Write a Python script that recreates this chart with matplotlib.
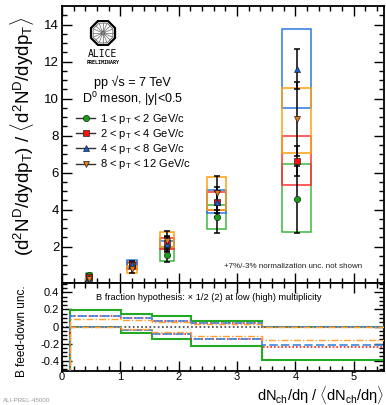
import matplotlib
matplotlib.use("Agg")
import matplotlib.pyplot as plt
from matplotlib.patches import Rectangle, RegularPolygon, Circle
from matplotlib.lines import Line2D
import numpy as np

plt.rcParams['font.family'] = ['Liberation Sans', 'DejaVu Sans']
plt.rcParams['mathtext.fontset'] = 'custom'
plt.rcParams['mathtext.rm'] = 'Liberation Sans'
plt.rcParams['mathtext.it'] = 'Liberation Sans:italic'
plt.rcParams['mathtext.bf'] = 'Liberation Sans:bold'

# ---------------- data ----------------
mult = [0.46, 1.2, 1.8, 2.65, 4.02]
mult_syst = [0.05, 0.08, 0.115, 0.165, 0.245]

pt_labels = ["1 < p$_{\\mathrm{T}}$ < 2 GeV/c",
             "2 < p$_{\\mathrm{T}}$ < 4 GeV/c",
             "4 < p$_{\\mathrm{T}}$ < 8 GeV/c",
             "8 < p$_{\\mathrm{T}}$ < 12 GeV/c"]

yield_pt1 = [0.47, 0.95, 1.57, 3.60, 4.55]
stat_pt1 = [0.05, 0.10, 0.42, 0.85, 1.80]
syst_lo_pt1 = [0.38, 0.80, 1.24, 2.96, 2.78]
syst_hi_pt1 = [0.56, 1.10, 1.88, 4.25, 6.45]

yield_pt2 = [0.36, 0.98, 2.20, 4.40, 6.63]
stat_pt2 = [0.05, 0.12, 0.35, 0.60, 0.80]
syst_lo_pt2 = [0.30, 0.80, 1.88, 3.95, 5.34]
syst_hi_pt2 = [0.44, 1.17, 2.45, 4.95, 7.98]

yield_pt3 = [0.30, 1.08, 2.12, 4.40, 11.60]
stat_pt3 = [0.05, 0.12, 0.40, 0.80, 1.10]
syst_lo_pt3 = [0.25, 0.88, 1.95, 3.84, 9.48]
syst_hi_pt3 = [0.38, 1.26, 2.32, 5.03, 13.75]

yield_pt4 = [0.25, 0.78, 2.30, 4.89, 8.90]
stat_pt4 = [0.06, 0.20, 0.55, 0.90, 2.00]
syst_lo_pt4 = [0.20, 0.55, 2.00, 3.98, 7.05]
syst_hi_pt4 = [0.30, 0.95, 2.76, 5.75, 10.56]

# B feed-down uncertainty bands
fd_edges = [0.137, 1.01, 1.55, 2.21, 3.42, 5.6]
fd_up_pt1 = [0.19, 0.15, 0.12, 0.07, 0.0]
fd_dn_pt1 = [0.0, -0.075, -0.145, -0.23, -0.39]
fd_up_pt2 = [0.12, 0.10, 0.07, 0.04, 0.0]
fd_dn_pt2 = [0.0, -0.045, -0.09, -0.15, -0.235]
fd_up_pt3 = [0.12, 0.10, 0.07, 0.04, 0.0]
fd_dn_pt3 = [0.0, -0.043, -0.088, -0.145, -0.22]
fd_up_pt4 = [0.086, 0.075, 0.055, 0.025, 0.0]
fd_dn_pt4 = [0.0, -0.03, -0.062, -0.11, -0.16]

# ---------------- styles ----------------
marker_col = ['#13a013', '#ff1010', '#1060d8', '#e87a10']
box_col = ['#3cb83c', '#ff3030', '#2a7ae0', '#ffa010']
markers = ['o', 's', '^', 'v']
fd_col = ['#22aa22', '#ff2020', '#3c88e0', '#ffa030']
fd_ls = ['-', (0, (1, 1.2)), (0, (5, 2)), (0, (5, 1.5, 1, 1.5))]
fd_lw = [1.5, 1.2, 1.2, 1.0]

series = [
    (yield_pt1, stat_pt1, syst_lo_pt1, syst_hi_pt1),
    (yield_pt2, stat_pt2, syst_lo_pt2, syst_hi_pt2),
    (yield_pt3, stat_pt3, syst_lo_pt3, syst_hi_pt3),
    (yield_pt4, stat_pt4, syst_lo_pt4, syst_hi_pt4),
]
fd_series = [(fd_up_pt1, fd_dn_pt1), (fd_up_pt2, fd_dn_pt2),
             (fd_up_pt3, fd_dn_pt3), (fd_up_pt4, fd_dn_pt4)]

W, H = 386, 405
fig = plt.figure(figsize=(W / 100, H / 100), dpi=100)
ax1 = fig.add_axes([62 / W, 1 - 283 / H, (384 - 62) / W, (283 - 6) / H])
ax2 = fig.add_axes([62 / W, 1 - 371 / H, (384 - 62) / W, (371 - 283) / H])

XMAX = 5.52
for ax in (ax1, ax2):
    ax.set_xlim(0, XMAX)
    for s in ax.spines.values():
        s.set_linewidth(1.3)
    ax.tick_params(which='both', direction='in', top=True, right=True, width=1.0)
    ax.tick_params(which='major', length=7)
    ax.tick_params(which='minor', length=3.5)
    ax.set_xticks([0, 1, 2, 3, 4, 5])
    ax.set_xticks(np.arange(0, XMAX, 0.2), minor=True)

# ---------------- top panel ----------------
ax1.set_ylim(0.03, 15.0)
ax1.set_yticks([2, 4, 6, 8, 10, 12, 14])
ax1.set_yticks(np.arange(0.5, 15, 0.5), minor=True)
ax1.tick_params(axis='x', labelbottom=False)
ax1.tick_params(axis='y', labelsize=9.5, pad=2)

for i, (yv, st, lo, hi) in enumerate(series):
    for x, hw, l, h in zip(mult, mult_syst, lo, hi):
        ax1.add_patch(Rectangle((x - hw, l), 2 * hw, h - l, fill=False,
                                edgecolor=box_col[i], lw=1.1, zorder=2 + i * 0.1))
for i, (yv, st, lo, hi) in enumerate(series):
    ax1.errorbar(mult, yv, yerr=st, fmt='none', ecolor='black', elinewidth=1.1,
                 capsize=2.2, capthick=1.1, zorder=4)
for i, (yv, st, lo, hi) in enumerate(series):
    ax1.plot(mult, yv, ls='none', marker=markers[i], ms=4.5, mfc=marker_col[i],
             mec='#202020', mew=0.5, zorder=5)

ax1.set_ylabel("(d$^{2}$N$^{\\mathrm{D}}$/dydp$_{\\mathrm{T}}$) / "
               "$\\langle$d$^{2}$N$^{\\mathrm{D}}$/dydp$_{\\mathrm{T}}\\rangle$",
               fontsize=13.5, labelpad=3)
ax1.yaxis.set_label_coords(-0.08, 0.53)


def fig_text(xpx, ypx, s, **kw):
    fig.text(xpx / W, 1 - ypx / H, s, **kw)


fig_text(94, 82, "pp \u221as = 7 TeV", fontsize=9, va='center', ha='left')
fig_text(82, 99, "D$^{0}$ meson, |y|<0.5", fontsize=9, va='center', ha='left')

handles = [Line2D([], [], color='#303030', lw=1.0, marker=markers[i], ms=4.5,
                  mfc=marker_col[i], mec='#202020', mew=0.5) for i in range(4)]
ax1.legend(handles, pt_labels, loc='upper left', bbox_to_anchor=(0.045, 0.617),
           frameon=False, fontsize=8, handlelength=1.7, handletextpad=0.4,
           labelspacing=0.1, borderaxespad=0, borderpad=0)

ax1.text((362 - 62) / 322, 0.058, "+7%/-3% normalization unc. not shown",
         transform=ax1.transAxes, fontsize=5.8, ha='right', va='center', color='#202020')

# ALICE logo
lax = fig.add_axes([88 / W, 1 - 46 / H, 30 / W, 26 / H])
lax.set_xlim(-1.15, 1.15)
lax.set_ylim(-1.0, 1.0)
lax.set_aspect('equal')
lax.axis('off')
lax.add_patch(RegularPolygon((0, 0), 8, radius=1.0, orientation=np.pi / 8,
                             fill=False, lw=1.6, edgecolor='black'))
lax.add_patch(RegularPolygon((0, 0), 8, radius=0.82, orientation=np.pi / 8,
                             fill=False, lw=0.5, edgecolor='#555555'))
for a in np.linspace(0, 2 * np.pi, 16, endpoint=False):
    lax.plot([0.12 * np.cos(a), 0.78 * np.cos(a)], [0.12 * np.sin(a), 0.78 * np.sin(a)],
             color='#666666', lw=0.5)
lax.add_patch(Circle((0, 0), 0.14, color='#888888'))
fig_text(103, 54, "ALICE", fontsize=7, ha='center', va='center', family='DejaVu Sans Mono')
fig_text(103, 62.5, "PRELIMINARY", fontsize=3.6, ha='center', va='center',
         family='DejaVu Sans Mono', weight='bold')

# ---------------- bottom panel ----------------
ax2.set_ylim(-0.52, 0.51)
ax2.set_yticks([-0.4, -0.2, 0, 0.2, 0.4])
ax2.set_yticklabels(["-0.4", "-0.2", "0", "0.2", "0.4"])
ax2.set_yticks(np.arange(-0.5, 0.51, 0.05), minor=True)
ax2.tick_params(axis='both', labelsize=8, pad=2)
ax2.tick_params(axis='x', pad=1)

ax2.axhline(0, color='#404040', ls=(0, (1, 1.5)), lw=1.2, zorder=1)
for i, (up, dn) in enumerate(fd_series):
    for vals in (up, dn):
        ax2.stairs(vals, fd_edges, baseline=-0.6, fill=False, color=fd_col[i],
                   ls=fd_ls[i], lw=fd_lw[i], zorder=2 + i)

ax2.text(0.105, 0.83, "B fraction hypothesis: \u00d7 1/2 (2) at low (high) multiplicity",
         transform=ax2.transAxes, fontsize=6.7, ha='left', va='center')
ax2.set_ylabel("B feed-down unc.", fontsize=8.5, labelpad=2)
ax2.yaxis.set_label_coords(-0.105, 0.45)

fig_text(384, 395, "dN$_{\\mathrm{ch}}$/d\u03b7 / $\\langle$dN$_{\\mathrm{ch}}$/d\u03b7$\\rangle$",
         fontsize=10.5, ha='right', va='center')
fig_text(3, 400, "ALI-PREL-45000", fontsize=4.5, ha='left', va='center', color='#999999')

fig.savefig("out.png", dpi=100)
